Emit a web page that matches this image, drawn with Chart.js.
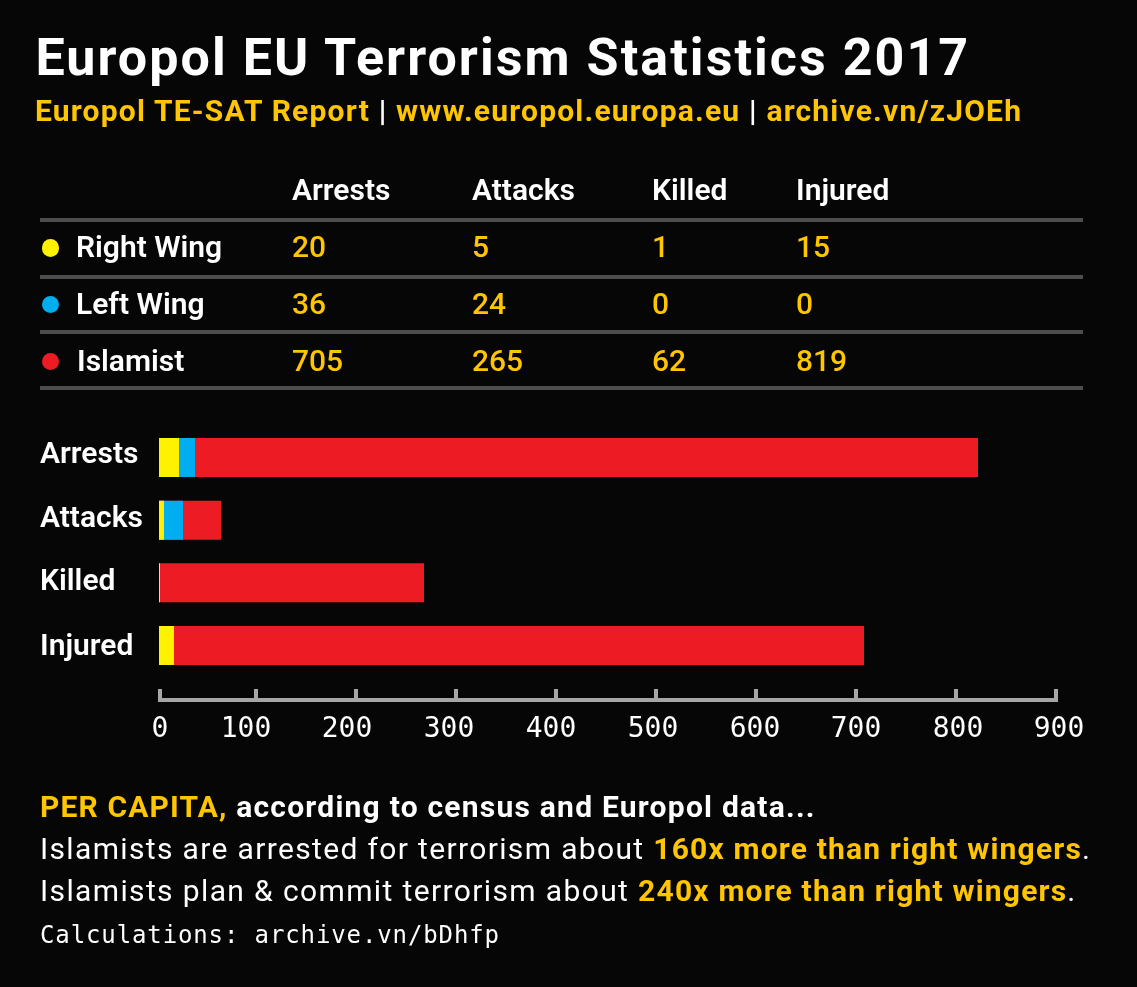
<!DOCTYPE html>
<html><head><meta charset="utf-8">
<script src="https://cdn.jsdelivr.net/npm/chart.js@4"></script>
<style>
html,body{margin:0;padding:0;background:#060606;width:1137px;height:987px;overflow:hidden}
#wrap{position:relative;width:1137px;height:987px}
canvas{position:absolute;left:0;top:0}
.t{position:absolute;line-height:0;white-space:pre;font-family:Roboto,sans-serif;color:#fff}
.g{color:#ffc500}
.rule{position:absolute;left:40px;width:1043px;height:4px;background:#4d4d4d}
.dot{position:absolute;width:17.4px;height:17.4px;border-radius:50%}
</style></head><body>
<div id="wrap"><canvas id="c" width="1137" height="987"></canvas></div>
<script>
const categories = ['Arrests','Attacks','Killed','Injured'];
const seriesNames = ['Right Wing','Left Wing','Islamist'];
const seriesColors = ['#fff200','#00aeef','#ed1c24'];
const tableRightWing = [20,5,1,15];
const tableLeftWing = [36,24,0,0];
const tableIslamist = [705,265,62,819];
// bar lengths
const barRightWing = [20,5,1,15];
const barLeftWing = [36,24,0,0];
const barIslamist = [819,62,265,705];
const xTicks = [0,100,200,300,400,500,600,700,800,900];
// the reference's printed axis does not line up exactly with its bars
const tickNudge = [1,-3,-3,-3,-3,-3,-3,-3,-3,-3];
const xLabelNudge = [0,-10,-9,-7,-5,-3,-1,0,2,3];
const yLabelNudge = [-2,-1,0,2];

const wrap = document.getElementById('wrap');
function text(html,x,base,size,weight,ls,cls){
  const d=document.createElement('div');d.className='t '+(cls||'');d.innerHTML=html;
  d.style.cssText=`left:${x}px;top:${base-0.3415*size}px;font-size:${size}px;font-weight:${weight};letter-spacing:${ls}px`;
  wrap.appendChild(d);return d;
}
text('Europol EU Terrorism Statistics 2017',35.5,76,52,700,2.05);
text('<span class="g">Europol TE-SAT Report</span> | <span class="g">www.europol.europa.eu</span> | <span class="g">archive.vn/zJOEh</span>',35,121,30,700,1.2);
const colX=[292,472,652,796];
categories.forEach((c,i)=>text(c,colX[i],200,30,600,0));
[218,275,330,386].forEach(y=>{const r=document.createElement('div');r.className='rule';r.style.top=y+'px';wrap.appendChild(r);});
const rowBase=[257,314,371], rowLabelX=[76,76,77], dotY=[248,304.7,361.4];
[tableRightWing,tableLeftWing,tableIslamist].forEach((vals,r)=>{
  const d=document.createElement('div');d.className='dot';d.style.left='42px';d.style.top=(dotY[r]-8.7)+'px';d.style.background=seriesColors[r];wrap.appendChild(d);
  text(seriesNames[r],rowLabelX[r],rowBase[r],30,600,0);
  vals.forEach((v,i)=>text(String(v),colX[i],rowBase[r],30,500,0,'g'));
});
text('<span class="g">PER CAPITA,</span><span style="letter-spacing:1.23px"> according to census and Europol data...</span>',40,817,30,700,1.14);
text('Islamists are arrested for terrorism about <b class="g" style="font-weight:700;letter-spacing:1.17px">160x more than right wingers</b>.',40,859,30,400,1.35);
text('Islamists plan &amp; commit terrorism about <b class="g" style="font-weight:700;letter-spacing:1.19px">240x more than right wingers</b>.',40,901,30,400,1.37);
const c2=text('Calculations: archive.vn/bDhfp',40,943,24,400,0.88);
c2.style.fontFamily='"DejaVu Sans Mono",monospace';

const nudgeLabels={id:'nudgeLabels',beforeDraw(chart){
  const x=chart.scales.x, y=chart.scales.y;
  x.left=160; x.right=1056;
  x.getLabelItems().forEach((it,i)=>{it.options.translation[0]+=xLabelNudge[i];});
  y.getLabelItems().forEach((it,i)=>{it.options.translation[1]+=yLabelNudge[i];});
}};
new Chart(document.getElementById('c'),{
  type:'bar',
  data:{labels:categories,datasets:[
    {label:seriesNames[0],data:barRightWing,backgroundColor:seriesColors[0]},
    {label:seriesNames[1],data:barLeftWing,backgroundColor:seriesColors[1]},
    {label:seriesNames[2],data:barIslamist,backgroundColor:seriesColors[2]}
  ]},
  plugins:[nudgeLabels],
  options:{
    indexAxis:'y',responsive:false,animation:false,devicePixelRatio:1,
    layout:{padding:{left:40,right:78,top:426.17,bottom:237}},
    plugins:{legend:{display:false},title:{display:false},tooltip:{enabled:false}},
    datasets:{bar:{grouped:false,barThickness:39,borderWidth:0,inflateAmount:0}},
    scales:{
      y:{type:'category',position:'left',
        afterFit(s){s.width=119;},
        grid:{display:false},border:{display:false},
        ticks:{color:'#fff',crossAlign:'far',padding:0,font:{family:'Roboto',size:30,weight:'600'}}},
      spacer:{type:'linear',axis:'x',position:'bottom',weight:0,
        afterFit(s){s.height=23.17;},
        grid:{display:false},border:{display:false},ticks:{display:false}},
      x:{type:'linear',position:'bottom',weight:1,min:0,max:900,
        afterBuildTicks(s){
          s.ticks=xTicks.map(v=>({value:v}));
          s.getPixelForTick=i=>s.getPixelForValue(s.ticks[i].value)+tickNudge[i];
        },
        afterFit(s){s.height=50;},
        grid:{drawOnChartArea:false,drawTicks:true,tickLength:-11,color:'#a6a6a6',lineWidth:4},
        border:{display:true,color:'#a6a6a6',width:4},
        ticks:{color:'#fff',padding:24,maxRotation:0,autoSkip:false,font:{family:'"DejaVu Sans Mono"',size:28}}}
    }
  }
});
</script></body></html>
